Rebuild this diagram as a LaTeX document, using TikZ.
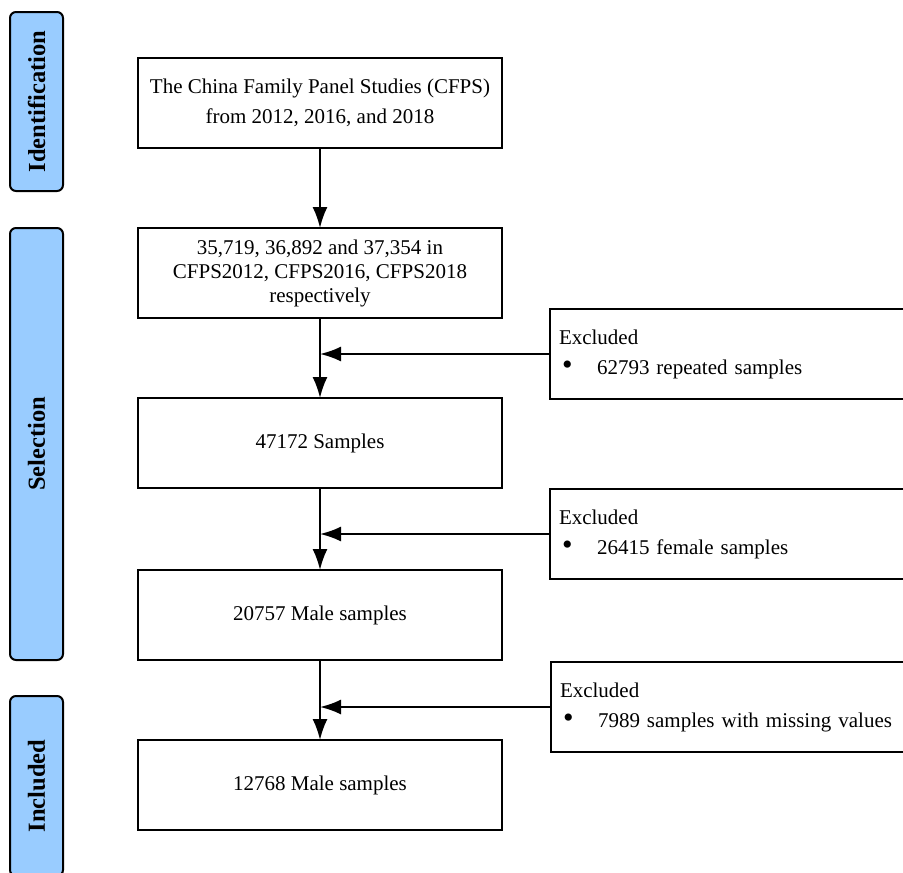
\documentclass[tikz,border=0pt]{standalone}
\usepackage{fontspec}
\setmainfont{Liberation Serif}
\usetikzlibrary{positioning,arrows.meta}
\definecolor{stageblue}{HTML}{99CCFF}
\tikzset{
    block/.style = {draw, rectangle, line width=2pt, outer sep=0pt,
        minimum height=90pt,
        minimum width=364pt, align=center},
    exclude/.style = {draw, rectangle, line width=2pt, anchor=west,
        minimum height=90pt, text width=382pt, inner xsep=9pt, align=left},
    stage/.style = {draw, rounded corners=6pt, fill=stageblue, line width=2pt,
        rotate=90, minimum height=53pt, font=\fontsize{24.5}{30}\selectfont\bfseries},
    arrow/.style = {draw, line width=2pt, -{Latex[length=21pt,width=15pt]}}
}
\newcommand{\excl}[1]{Excluded\\\hspace*{3pt}\makebox[35pt][l]{\fontsize{30}{30}\selectfont\textbullet}#1}
\begin{document}
\begin{tikzpicture}[x=1pt, y=1pt, node distance=80pt, font=\fontsize{21}{30}\selectfont]
    \useasboundingbox (0,0) rectangle (903,-873);
    \clip (0,0) rectangle (903,-873);
    \node [block] (cfps) at (320,-103) {The China Family Panel Studies (CFPS)\\from 2012, 2016, and 2018};
    \node [block, below=of cfps, font=\fontsize{21}{24}\selectfont] (waves) {35,719, 36,892 and 37,354 in\\CFPS2012, CFPS2016, CFPS2018\\respectively};
    \node [block, below=of waves] (unique) {47172 Samples};
    \node [block, below=82pt of unique] (male) {20757 Male samples};
    \node [block, below=of male] (final) {12768 Male samples};
    \node [exclude] (dup) at (549,-354) {\excl{62793 repeated samples}};
    \node [exclude] (fem) at (549,-534) {\excl{26415 female samples}};
    \node [exclude] (miss) at (550,-707) {\excl{7989 samples with missing values}};
    \node [stage, minimum width=179pt] (ident) at (36.5,-101.5) {Identification};
    \node [stage, minimum width=432pt] (select) at (36.5,-444) {Selection};
    \node [stage, minimum width=180pt] (incl) at (36.5,-786) {Included};
    \foreach \a/\b in {cfps/waves, waves/unique, unique/male, male/final}
        \draw [arrow] (\a) -- (\b);
    \draw [arrow] (dup.west) -- (dup.west -| waves.south);
    \draw [arrow] (fem.west) -- (fem.west -| unique.south);
    \draw [arrow] (miss.west) -- (miss.west -| male.south);
\end{tikzpicture}
\end{document}
